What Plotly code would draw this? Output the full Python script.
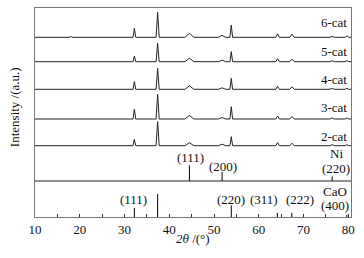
import plotly.graph_objects as go

# ---- data ----
two_theta = [10.0, 17.7, 18.0, 18.3, 31.9, 32.2, 32.5, 37.05, 37.4, 37.75,
             43.5, 44.5, 45.5, 51.0, 51.8, 52.6, 53.55, 53.85, 54.15,
             63.8, 64.2, 64.6, 66.9, 67.4, 67.9, 75.9, 76.4, 76.9,
             79.3, 79.7, 80.1, 80.6]

samples = ["6-cat", "5-cat", "4-cat", "3-cat", "2-cat"]
int_6cat = [0, 0, 1.0, 0, 0, 9.0, 0, 0, 25.0, 0, 0, 4.0, 0, 0, 2.0, 0, 0, 12.3, 0,
            0, 3.5, 0, 0, 3.0, 0, 0, 1.0, 0, 0, 1.5, 0, 0]
int_5cat = [0, 0, 0.5, 0, 0, 5.7, 0, 0, 18.4, 0, 0, 3.5, 0, 0, 1.5, 0, 0, 10.0, 0,
            0, 3.0, 0, 0, 2.5, 0, 0, 1.0, 0, 0, 1.0, 0, 0]
int_4cat = [0, 0, 0.5, 0, 0, 7.7, 0, 0, 21.0, 0, 0, 3.5, 0, 0, 1.5, 0, 0, 11.0, 0,
            0, 3.0, 0, 0, 2.5, 0, 0, 1.0, 0, 0, 1.0, 0, 0]
int_3cat = [0, 0, 0.5, 0, 0, 9.7, 0, 0, 24.7, 0, 0, 3.5, 0, 0, 1.5, 0, 0, 12.3, 0,
            0, 3.0, 0, 0, 2.5, 0, 0, 1.0, 0, 0, 1.0, 0, 0]
int_2cat = [0, 0, 0.5, 0, 0, 6.3, 0, 0, 24.0, 0, 0, 3.0, 0, 0, 1.5, 0, 0, 9.0, 0,
            0, 3.0, 0, 0, 2.5, 0, 0, 1.0, 0, 0, 1.0, 0, 0]
intensities = [int_6cat, int_5cat, int_4cat, int_3cat, int_2cat]

ni_pos = [44.5, 51.8, 76.4]
ni_int = [15.7, 9.0, 4.7]
ni_hkl = ["(111)", "(200)", "(220)"]

cao_pos = [32.2, 37.4, 53.85, 64.15, 67.37, 79.67]
cao_int = [9.0, 23.0, 11.7, 4.0, 4.0, 2.0]
cao_hkl = ["(111)", "(200)", "(220)", "(311)", "(222)", "(400)"]

x_ticks = [10, 20, 30, 40, 50, 60, 70, 80]

# ---- layout constants (pixel-like units on the y axis) ----
offsets = [179.7, 155.3, 127.7, 98.0, 71.3]
ni_base = 36.0
cao_base = 0.0
FONT = "Liberation Serif"
LINE = "#222222"

fig = go.Figure()

for name, ys, off in zip(samples, intensities, offsets):
    fig.add_trace(go.Scatter(x=two_theta, y=[v + off for v in ys], mode="lines",
                             line=dict(color=LINE, width=1), name=name,
                             showlegend=False, hoverinfo="skip"))

def sticks(pos, hts, base):
    xs, ys = [], []
    for p, h in zip(pos, hts):
        xs += [p, p, None]
        ys += [base, base + h, None]
    return xs, ys

sx, sy = sticks(ni_pos, ni_int, ni_base)
fig.add_trace(go.Scatter(x=sx, y=sy, mode="lines", line=dict(color="#000", width=1),
                         showlegend=False, hoverinfo="skip"))
sx, sy = sticks(cao_pos, cao_int, cao_base)
fig.add_trace(go.Scatter(x=sx, y=sy, mode="lines", line=dict(color="#000", width=1),
                         showlegend=False, hoverinfo="skip"))

# separator between Ni and CaO panels
fig.add_shape(type="line", xref="paper", x0=0, x1=1, yref="y", y0=ni_base, y1=ni_base,
              line=dict(color=LINE, width=1))

ann = []
lab_y = [194.5, 166.0, 138.0, 109.5, 81.0]
for name, y in zip(samples, lab_y):
    ann.append(dict(text=name, xref="paper", x=0.995, xanchor="right", yref="y", y=y,
                    yanchor="middle", showarrow=False))

# Ni labels
ann.append(dict(text=ni_hkl[0], x=44.85, y=59.3))
ann.append(dict(text=ni_hkl[1], x=52.0, y=50.3))
ann.append(dict(text="Ni", x=77.25, y=64.0))
ann.append(dict(text=ni_hkl[2], x=77.25, y=49.0))
# CaO labels
ann.append(dict(text=cao_hkl[0], x=32.1, y=18.0))
ann.append(dict(text=cao_hkl[2], x=53.8, y=17.5))
ann.append(dict(text=cao_hkl[3], x=61.2, y=17.5))
ann.append(dict(text=cao_hkl[4], x=69.2, y=17.5))
ann.append(dict(text="CaO", x=77.0, y=26.0))
ann.append(dict(text=cao_hkl[5], x=77.0, y=12.0))

for a in ann:
    a.setdefault("xref", "x")
    a.setdefault("yref", "y")
    a.setdefault("showarrow", False)
    a.setdefault("yanchor", "middle")
    a["font"] = dict(family=FONT, size=13, color="#111")

ann.append(dict(text="Intensity /(a.u.)", xref="paper", x=-0.066, yref="paper",
                y=(217 - 107) / 209, textangle=-90, showarrow=False,
                xanchor="center", yanchor="middle",
                font=dict(family=FONT, size=13, color="#111")))
ann.append(dict(text="<i>2θ</i> /(°)", xref="paper", x=0.50, yref="paper",
                y=(217 - 239) / 209, showarrow=False, xanchor="center",
                yanchor="middle", font=dict(family=FONT, size=13, color="#111")))

fig.update_layout(
    width=364, height=258,
    margin=dict(l=35, r=13, t=8, b=41),
    paper_bgcolor="white", plot_bgcolor="white",
    font=dict(family=FONT, size=13, color="#111"),
    annotations=ann,
    xaxis=dict(range=[10, 80.6], tickvals=x_ticks, ticks="inside", ticklen=3,
               tickcolor="#333", showline=True, linecolor="#777", linewidth=1,
               mirror=True, showgrid=False, zeroline=False,
               tickfont=dict(family=FONT, size=13, color="#111"),
               minor=dict(dtick=5, tick0=10, ticks="inside", ticklen=3,
                          tickcolor="#333", showgrid=False)),
    yaxis=dict(range=[0, 209], showticklabels=False, ticks="", showline=True,
               linecolor="#777", linewidth=1, mirror=True, showgrid=False,
               zeroline=False),
)

fig.write_html("out.html", config={"displayModeBar": False},
               post_script="document.body.style.margin='0';document.body.style.overflow='hidden';")
